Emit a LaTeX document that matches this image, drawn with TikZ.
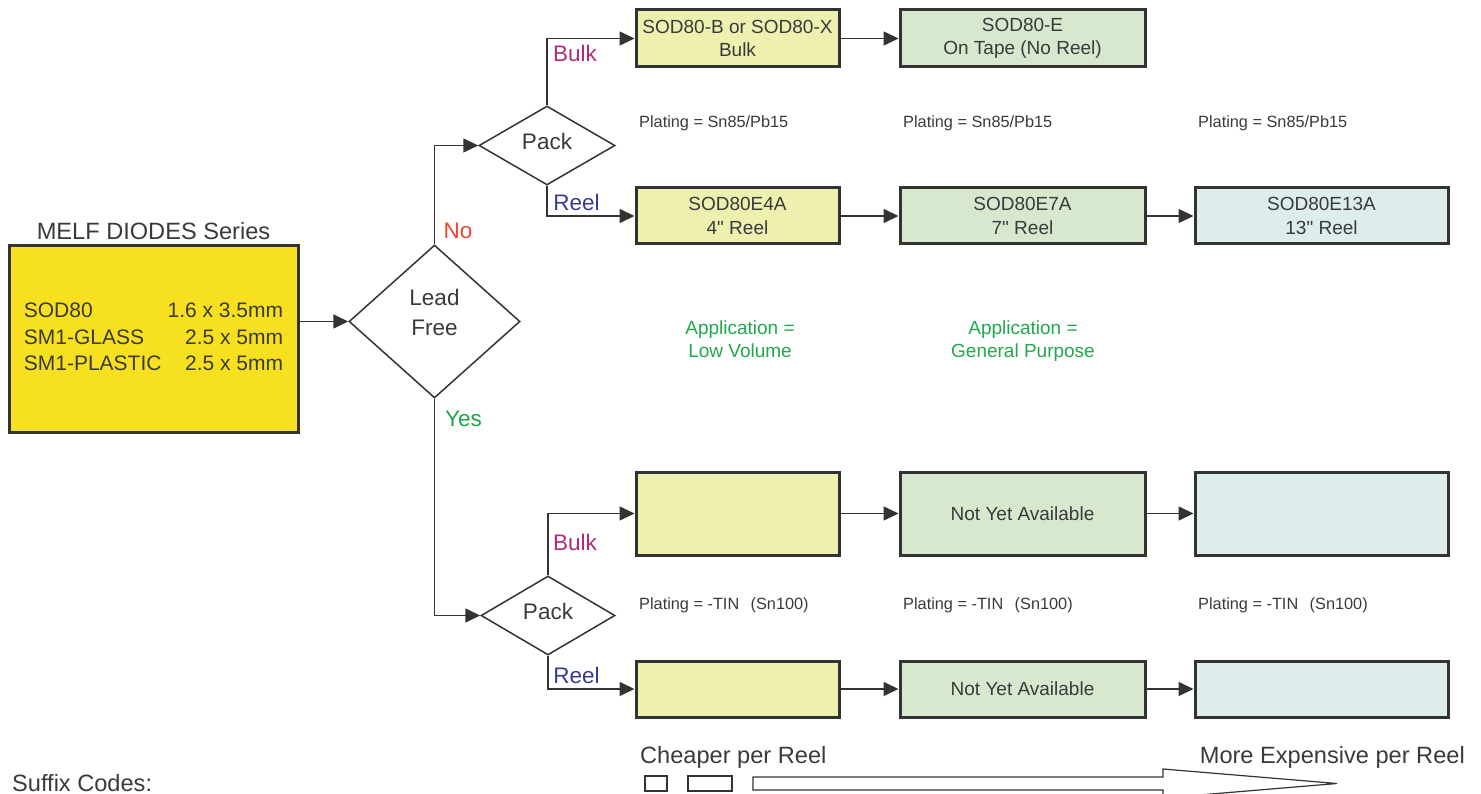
\documentclass[tikz,border=0pt]{standalone}
\usepackage{fontspec}
\setmainfont{Liberation Sans}[Ligatures=TeXOff]
\usetikzlibrary{arrows.meta,shapes.geometric}
\definecolor{mainyel}{HTML}{F7E020}
\definecolor{lyel}{HTML}{EEF0B0}
\definecolor{lgrn}{HTML}{D7E8CF}
\definecolor{lblu}{HTML}{DDEDEC}
\definecolor{bord}{HTML}{333333}
\definecolor{txt}{HTML}{3A3A3A}
\definecolor{nored}{HTML}{EE4430}
\definecolor{yesgrn}{HTML}{1EA54B}
\definecolor{bulkc}{HTML}{B32A7C}
\definecolor{reelc}{HTML}{383C8A}
\definecolor{appc}{HTML}{22A84C}
\begin{document}
\begin{tikzpicture}[x=1pt,y=-1pt,
  box/.style={draw=bord, line width=3pt, align=center, text=txt,
    font=\fontsize{19}{23.5}\selectfont, inner sep=0pt},
  r1/.style={minimum height=57pt},
  r2/.style={minimum height=56pt},
  r3/.style={minimum height=83pt},
  c1/.style={minimum width=203pt, fill=lyel},
  c2/.style={minimum width=245pt, fill=lgrn},
  c3/.style={minimum width=253pt, fill=lblu},
  diam/.style={diamond, draw=bord, line width=1.5pt, inner sep=0pt},
  dtext/.style={text=txt, align=center, font=\fontsize{22.5}{30}\selectfont},
  lbl/.style={font=\fontsize{22.5}{27}\selectfont},
  plat/.style={anchor=base west, text=txt, font=\fontsize{16.3}{20}\selectfont, inner sep=0pt},
  appl/.style={anchor=base, text=appc, align=center, font=\fontsize{19}{24}\selectfont},
  big/.style={inner sep=0pt, text=txt, font=\fontsize{23.6}{28}\selectfont},
  conn/.style={draw=bord, line width=1.6pt, -{Triangle[length=15pt,width=14pt]}},
  legend/.style={draw=bord, line width=1.2pt}
]
\useasboundingbox (0,0) rectangle (1481,794);
\clip (0,0) rectangle (1481,794);

% main box
\node[draw=bord, line width=3pt, fill=mainyel, minimum width=289pt, minimum height=186pt, inner sep=0pt, text=txt,
  font=\fontsize{21}{26.5}\selectfont] (main) at (153.5,339)
  {\begin{tabular}{@{}l@{\hspace{6pt}}r@{}}SOD80 & 1.6 x 3.5mm\\ SM1-GLASS & 2.5 x 5mm\\ SM1-PLASTIC & 2.5 x 5mm\end{tabular}};
\node[big] (title) at (153.5,231) {MELF DIODES Series};

% diamonds
\node[diam, minimum width=171pt, minimum height=153pt] (lf) at (434.5,321.5) {};
\node[dtext] (lft) at (434.5,312) {Lead\\Free};
\node[diam, minimum width=136pt, minimum height=79pt] (pk1) at (547,145.5) {};
\node[dtext] (pk1t) at (547,141) {Pack};
\node[diam, minimum width=134pt, minimum height=79pt] (pk2) at (548,615.5) {};
\node[dtext] (pk2t) at (548,611) {Pack};

% boxes row 1
\node[box, r1, c1] (b11) at (737.5,38.5) {SOD80-B or SOD80-X\\Bulk};
\node[box, r1, c2] (b12) at (1022.5,38.5) {SOD80-E\\On Tape (No Reel)};
% row 2
\node[box, r2, c1] (b21) at (737.5,216) {SOD80E4A\\4" Reel};
\node[box, r2, c2] (b22) at (1022.5,216) {SOD80E7A\\7" Reel};
\node[box, r2, c3] (b23) at (1321.5,216) {SOD80E13A\\13" Reel};
% row 3
\node[box, r3, c1] (b31) at (737.5,513.5) {};
\node[box, r3, c2] (b32) at (1022.5,513.5) {Not Yet Available};
\node[box, r3, c3] (b33) at (1321.5,513.5) {};
% row 4
\node[box, r2, c1] (b41) at (737.5,689) {};
\node[box, r2, c2] (b42) at (1022.5,689) {Not Yet Available};
\node[box, r2, c3] (b43) at (1321.5,689) {};

% connectors
\draw[conn] (lf.west -| main.east) -- (lf.west);
\draw[conn] (lf.north) |- (pk1.west);
\draw[conn] (lf.south) |- (pk2.west);
\draw[conn] (pk1.north) |- (b11.west);
\draw[conn] (pk1.south) |- (b21.west);
\draw[conn] (pk2.north) |- (b31.west);
\draw[conn] (pk2.south) |- (b41.west);
\draw[conn] (b11) -- (b12);
\draw[conn] (b21) -- (b22);
\draw[conn] (b22) -- (b23);
\draw[conn] (b31) -- (b32);
\draw[conn] (b32) -- (b33);
\draw[conn] (b41) -- (b42);
\draw[conn] (b42) -- (b43);

% branch labels
\node[lbl, text=nored] (no) at (458,231) {No};
\node[lbl, text=yesgrn] (yes) at (463.5,419) {Yes};
\node[lbl, text=bulkc] (bulk1) at (575,53) {Bulk};
\node[lbl, text=reelc] (reel1) at (576.5,202) {Reel};
\node[lbl, text=bulkc] (bulk2) at (575,542) {Bulk};
\node[lbl, text=reelc] (reel2) at (576.5,675) {Reel};

% plating
\node[plat] (p1) at (639,128) {Plating = Sn85/Pb15};
\node[plat] (p2) at (903,128) {Plating = Sn85/Pb15};
\node[plat] (p3) at (1198,128) {Plating = Sn85/Pb15};
\node[plat] (p4) at (639,609) {Plating = -TIN\hspace{0.7em}(Sn100)};
\node[plat] (p5) at (903,609) {Plating = -TIN\hspace{0.7em}(Sn100)};
\node[plat] (p6) at (1198,609) {Plating = -TIN\hspace{0.7em}(Sn100)};

% application
\node[appl] (a1) at (740,358) {Application =\\Low Volume};
\node[appl] (a2) at (1023,358) {Application =\\General Purpose};

% bottom legend
\node[big, anchor=base west] (cheap) at (640,763) {Cheaper per Reel};
\node[big, anchor=base east] (exp) at (1465,763) {More Expensive per Reel};
\node[big, anchor=base west] (suffix) at (12,791) {Suffix Codes:};
\draw[legend] (645,776) rectangle (667,791);
\draw[legend] (688,776) rectangle (732,791);
\draw[legend] (753,777) -- (1163,777) -- (1163,769) -- (1337,783.5) -- (1163,798) -- (1163,790) -- (753,790) -- cycle;
\end{tikzpicture}
\end{document}
